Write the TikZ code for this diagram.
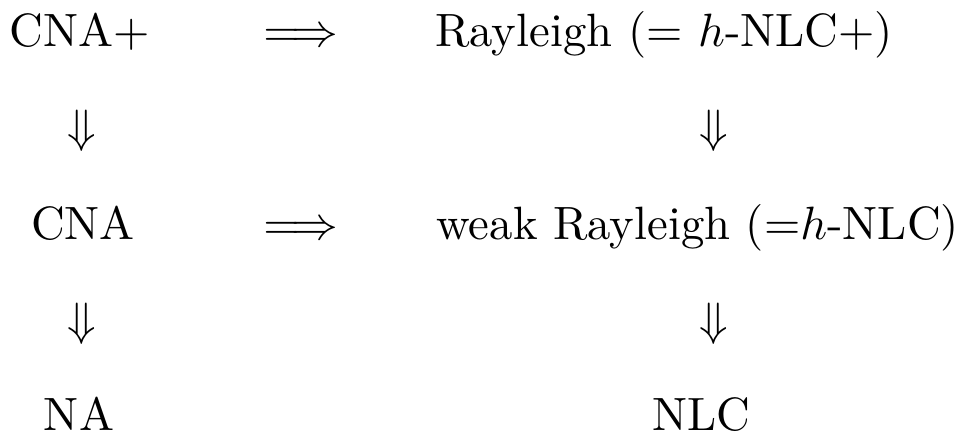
\documentclass[tikz,border=0pt]{standalone}
\usepackage{amsmath}
\begin{document}
\begin{tikzpicture}[x=0.21413pt,y=-0.21413pt,
  lbl/.style={inner sep=0pt,outer sep=0pt,anchor=base},
  lblw/.style={inner sep=0pt,outer sep=0pt,anchor=base west}]
\useasboundingbox (0,0) rectangle (971,434);
% row 1
\node[lbl]  (cnap) at (80,47)   {CNA+};
\node[lbl]  (imp1) at (301,47)  {$\Longrightarrow$};
\node[lblw] (ray)  at (435.5,47) {Rayleigh (= $h$-NLC+)};
% row 2
\node[lbl]  (d1) at (81.5,143) {$\Downarrow$};
\node[lbl]  (d2) at (713.5,143) {$\Downarrow$};
% row 3
\node[lbl]  (cna)  at (83,240)  {CNA};
\node[lbl]  (imp2) at (301,240) {$\Longrightarrow$};
\node[lblw] (wray) at (436.5,240) {weak Rayleigh (=$h$-NLC)};
% row 4
\node[lbl]  (d3) at (81.5,335.5) {$\Downarrow$};
\node[lbl]  (d4) at (713.5,335.5) {$\Downarrow$};
% row 5
\node[lbl]  (na)  at (79,431)  {NA};
\node[lbl]  (nlc) at (701,431) {NLC};
\end{tikzpicture}
\end{document}
